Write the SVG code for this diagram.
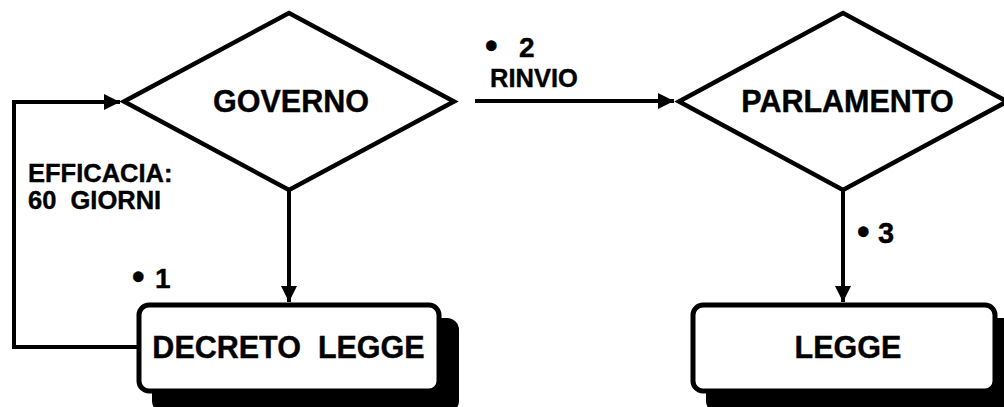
<svg xmlns="http://www.w3.org/2000/svg" width="1004" height="407" viewBox="0 0 1004 407">
<defs>
<style>
text{font-family:"Liberation Sans",Arial,sans-serif;font-weight:bold;fill:#000;stroke:#000;stroke-width:0.4}
.big{font-size:30.5px}
.lbl{font-size:25.5px}
.num{font-size:28px}
.bul{font-size:36px}
.dia{fill:#fff;stroke:#000;stroke-width:4.5;stroke-linejoin:miter}
.box{fill:#fff;stroke:#000;stroke-width:5}
.shadow{fill:#000}
.con{fill:none;stroke:#000;stroke-width:4}
</style>
<marker id="arr" viewBox="0 0 16 16" refX="16" refY="8" markerWidth="16" markerHeight="16" markerUnits="userSpaceOnUse" orient="auto">
<path d="M0,0 L16,8 L0,16 Z" fill="#000"/>
</marker>
</defs>
<rect width="1004" height="407" fill="#fff"/>
<g id="connectors">
<path class="con" d="M137,347 H14 V102 H120" marker-end="url(#arr)"/>
<path class="con" d="M475,101 H674" marker-end="url(#arr)"/>
<path class="con" d="M289,190 V302" marker-end="url(#arr)"/>
<path class="con" d="M843,190 V302" marker-end="url(#arr)"/>
</g>
<g id="governo">
<polygon class="dia" points="124,101.5 289,13 454,101.5 289,190"/>
<text class="big" x="291" y="112" text-anchor="middle">GOVERNO</text>
</g>
<g id="parlamento">
<polygon class="dia" points="679,101.5 843,13 1007,101.5 843,190"/>
<text class="big" x="847.5" y="112" text-anchor="middle">PARLAMENTO</text>
</g>
<g id="decreto-legge">
<rect class="shadow" x="152" y="318" width="307" height="95" rx="12"/>
<rect class="box" x="139" y="305" width="300" height="86" rx="10"/>
<text class="big" x="288.5" y="358" text-anchor="middle" xml:space="preserve">DECRETO  LEGGE</text>
</g>
<g id="legge">
<rect class="shadow" x="706" y="318" width="310" height="95" rx="12"/>
<rect class="box" x="693" y="305" width="302" height="86" rx="10"/>
<text class="big" x="848" y="358" text-anchor="middle">LEGGE</text>
</g>
<g id="labels">
<text class="lbl" x="28" y="182">EFFICACIA:</text>
<text class="lbl" x="28" y="209" xml:space="preserve">60  GIORNI</text>
<text class="num" x="485" y="57"><tspan class="bul" dy="1">•</tspan><tspan x="519" y="57">2</tspan></text>
<text class="lbl" x="490" y="87">RINVIO</text>
<text class="num" x="132" y="288"><tspan class="bul" dy="1">•</tspan><tspan x="155" y="288">1</tspan></text>
<text class="num" x="857" y="243" style="font-size:29px"><tspan class="bul" dy="1">•</tspan><tspan x="878" y="243">3</tspan></text>
</g>
</svg>
